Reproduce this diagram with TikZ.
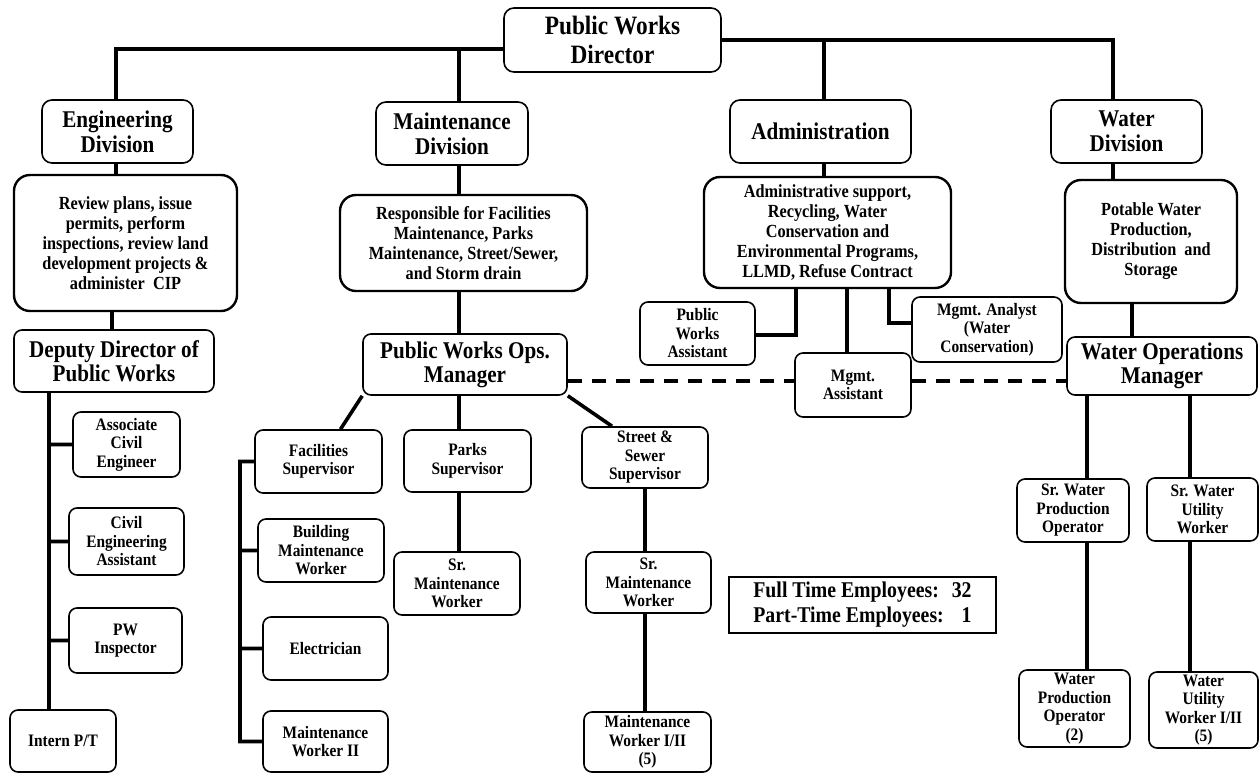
\documentclass[tikz,border=0pt]{standalone}
\usepackage{fontspec}
% narrow, tall bold serif lettering
\setmainfont{Liberation Serif}[FakeStretch=0.88]
% box from its corners: name, x1, y1, x2, y2, style, text
\newcommand\orgbox[7]{%
  \node[#6, minimum width={#4-#2}, minimum height={#5-#3}] (#1)
    at ({(#2+#4)/2},{(#3+#5)/2}) {#7};}
\begin{document}
\begin{tikzpicture}[x=1pt, y=-1pt,
  unit/.style={draw=black, line width=1.6pt, rounded corners=8pt, inner sep=0pt,
    align=center, fill=white},
  headbox/.style={unit, rounded corners=10pt, font=\fontsize{24}{25}\selectfont\bfseries},
  topbox/.style={headbox, font=\fontsize{26.5}{29}\selectfont\bfseries},
  mgrbox/.style={unit, font=\fontsize{24}{24}\selectfont\bfseries},
  descbox/.style={unit, line width=2.4pt, rounded corners=16pt,
    font=\fontsize{18.5}{20}\selectfont\bfseries},
  smallbox/.style={unit, font=\fontsize{17.5}{18.5}\selectfont\bfseries},
  notebox/.style={draw=black, line width=1.6pt, inner sep=0pt,
    font=\fontsize{22.5}{26}\selectfont\bfseries},
  conn/.style={draw=black, line width=3.6pt},
  link/.style={conn, dash pattern=on 14pt off 10pt}]

\useasboundingbox (0,0) rectangle (1260,776);
\fill[white] (0,0) rectangle (1260,776);

% x positions of the vertical connector runs
\coordinate (ex) at (116,0);
\coordinate (dx) at (112,0);
\coordinate (sx) at (49,0);
\coordinate (mx) at (459,0);
\coordinate (ax) at (824,0);
\coordinate (wx) at (1113,0);
\coordinate (wy) at (1132,0);
\coordinate (px) at (796,0);
\coordinate (gx) at (847,0);
\coordinate (nx) at (889,0);
\coordinate (fb) at (240,0);
\coordinate (w1) at (1087,0);
\coordinate (w2) at (1190,0);
% y positions of the horizontal connector runs
\coordinate (busL) at (0,49);
\coordinate (busR) at (0,40);
\coordinate (pwy) at (0,335);
\coordinate (nay) at (0,323);
\coordinate (dly) at (0,381);

% ---- boxes ----
\orgbox{dir}{504}{8}{721}{72}{topbox}{Public Works\\Director}
\orgbox{eng}{42}{100}{193}{163}{headbox}{Engineering\\Division}
\orgbox{mdiv}{376}{102}{528}{165}{headbox}{Maintenance\\Division}
\orgbox{adm}{730}{100}{911}{163}{headbox}{Administration}
\orgbox{wdiv}{1051}{100}{1202}{163}{headbox}{Water\\Division}

\orgbox{engd}{14}{175}{237}{311}{descbox}{Review plans, issue\\permits, perform\\inspections, review land\\development projects \&\\administer~~CIP}
\orgbox{mdesc}{340}{195}{587}{291}{descbox}{Responsible for Facilities\\Maintenance, Parks\\Maintenance, Street/Sewer,\\and Storm drain}
\orgbox{admd}{704}{177}{951}{288}{descbox}{Administrative support,\\Recycling, Water\\Conservation and\\Environmental Programs,\\LLMD, Refuse Contract}
\orgbox{wdesc}{1065}{180}{1237}{303}{descbox}{Potable Water\\Production,\\Distribution~ and\\Storage}

\orgbox{dep}{14}{330}{214}{392}{mgrbox}{Deputy Director of\\Public Works}
\orgbox{opsm}{363}{334}{567}{395}{mgrbox}{Public Works Ops.\\Manager}
\orgbox{wops}{1067}{337}{1257}{395}{mgrbox}{Water Operations\\Manager}

\orgbox{pwa}{640}{302}{755}{365}{smallbox}{Public\\Works\\Assistant}
\orgbox{mana}{912}{297}{1062}{362}{smallbox}{Mgmt. Analyst\\(Water\\Conservation)}
\orgbox{masst}{795}{353}{911}{417}{smallbox}{Mgmt.\\Assistant}

\orgbox{ace}{73}{412}{180}{477}{smallbox}{Associate\\Civil\\Engineer}
\orgbox{cea}{69}{508}{184}{575}{smallbox}{Civil\\Engineering\\Assistant}
\orgbox{pwi}{69}{608}{182}{673}{smallbox}{PW\\Inspector}
\orgbox{intern}{10}{710}{116}{772}{smallbox}{Intern P/T}

\orgbox{fac}{255}{430}{382}{493}{smallbox}{Facilities\\Supervisor}
\orgbox{parks}{404}{430}{531}{492}{smallbox}{Parks\\Supervisor}
\orgbox{sss}{582}{427}{708}{488}{smallbox}{Street \&\\Sewer\\Supervisor}
\orgbox{bmw}{258}{519}{384}{582}{smallbox}{Building\\Maintenance\\Worker}
\orgbox{elec}{263}{617}{388}{680}{smallbox}{Electrician}
\orgbox{mw2}{263}{711}{388}{772}{smallbox}{Maintenance\\Worker II}
\orgbox{psmw}{394}{552}{520}{615}{smallbox}{Sr.\\Maintenance\\Worker}
\orgbox{ssmw}{586}{552}{711}{613}{smallbox}{Sr.\\Maintenance\\Worker}
\orgbox{mw12}{584}{712}{711}{772}{smallbox}{Maintenance\\Worker I/II\\(5)}

\orgbox{swpo}{1017}{479}{1129}{542}{smallbox}{Sr. Water\\Production\\Operator}
\orgbox{swuw}{1147}{478}{1258}{541}{smallbox}{Sr. Water\\Utility\\Worker}
\orgbox{wpo}{1019}{670}{1130}{747}{smallbox}{Water\\Production\\Operator\\(2)}
\orgbox{wuw}{1149}{672}{1258}{748}{smallbox}{Water\\Utility\\Worker I/II\\(5)}

\orgbox{emp}{729}{577}{996}{633}{notebox}{%
  \begin{tabular}{@{}l@{\hspace{8pt}}r@{}}
  Full Time Employees: & 32\\[-1pt]
  Part-Time Employees: & 1
  \end{tabular}}

% ---- connectors ----
\path[conn]
  (dir.west |- busL) -- (ex |- busL) -- (eng.north -| ex)
  (mx |- busL) -- (mdiv.north -| mx)
  (dir.east |- busR) -- (wx |- busR) -- (wdiv.north -| wx)
  (ax |- busR) -- (adm.north -| ax)
  (eng.south -| ex) -- (engd.north -| ex)
  (engd.south -| dx) -- (dep.north -| dx)
  (mdiv.south -| mx) -- (mdesc.north -| mx)
  (mdesc.south -| mx) -- (opsm.north -| mx)
  (adm.south -| ax) -- (admd.north -| ax)
  (wdiv.south -| wx) -- (wdesc.north -| wx)
  (wdesc.south -| wy) -- (wops.north -| wy)
  (admd.south -| px) -- (px |- pwy) -- (pwa.east |- pwy)
  (admd.south -| gx) -- (masst.north -| gx)
  (admd.south -| nx) -- (nx |- nay) -- (mana.west |- nay)
  (dep.south -| sx) -- (intern.north -| sx)
  (sx |- ace.west) -- (ace.west)
  (sx |- cea.west) -- (cea.west)
  (sx |- pwi.west) -- (pwi.west)
  (opsm.south west) -- ([xshift=22pt]fac.north)
  (opsm.south -| mx) -- (parks.north -| mx)
  (opsm.south east) -- ([xshift=-33pt]sss.north)
  (parks.south -| mx) -- (psmw.north -| mx)
  (sss.south) -- (ssmw.north -| sss.south)
  (ssmw.south -| sss.south) -- (mw12.north -| sss.south)
  (fac.west) -- (fb |- fac.west) -- (fb |- mw2.west) -- (mw2.west)
  (fb |- bmw.west) -- (bmw.west)
  (fb |- elec.west) -- (elec.west)
  (wops.south -| w1) -- (swpo.north -| w1)
  (swpo.south -| w1) -- (wpo.north -| w1)
  (wops.south -| w2) -- (swuw.north -| w2)
  (swuw.south -| w2) -- (wuw.north -| w2);
\path[link]
  (opsm.east |- dly) -- (masst.west |- dly)
  (masst.east |- dly) -- (wops.west |- dly);
\end{tikzpicture}
\end{document}
